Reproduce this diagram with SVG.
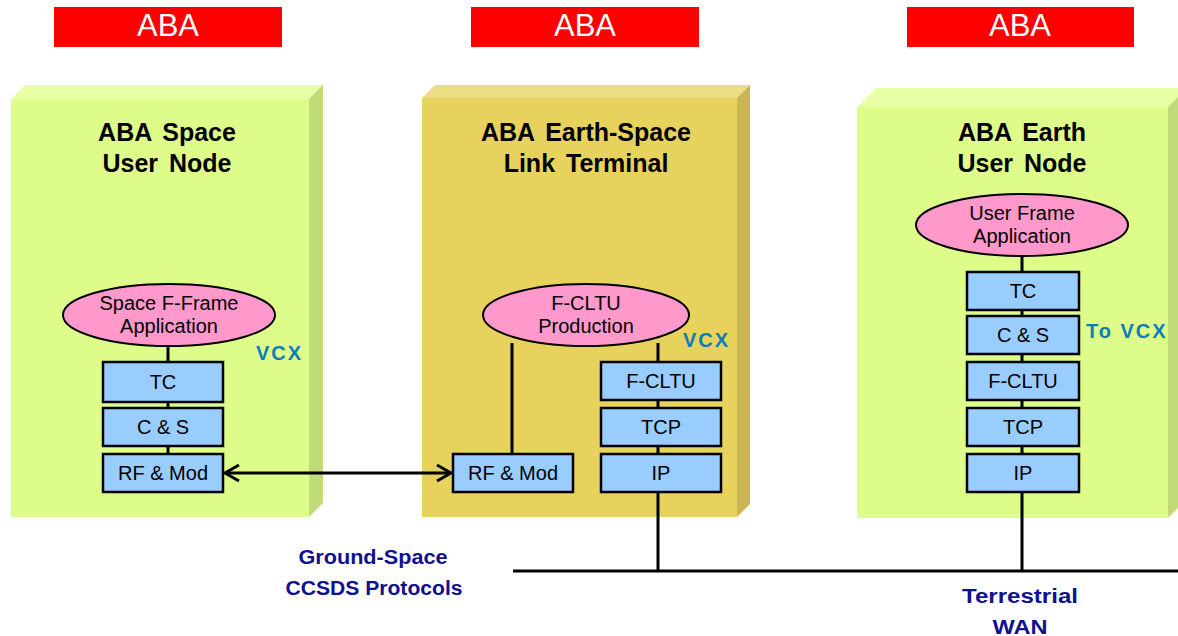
<svg xmlns="http://www.w3.org/2000/svg" width="1178" height="636" viewBox="0 0 1178 636">
<defs>
<style>
.hdr{fill:#FF0000}
.hdrt{font-family:"Liberation Sans",Arial,sans-serif;font-size:31px;fill:#fff;text-anchor:middle}
.gf{fill:#DEFC8A}.gt{fill:#E8FFA6}.gs{fill:#C0DB78}
.yf{fill:#E6D25C}.yt{fill:#ECDC84}.ys{fill:#C9B552}
.title{font-family:"Liberation Sans",Arial,sans-serif;font-size:25px;font-weight:bold;fill:#000;text-anchor:middle;word-spacing:4px}
.ell{fill:#FF99CC;stroke:#000;stroke-width:2}
.box{fill:#99CCFF;stroke:#000;stroke-width:2.5}
.lbl{font-family:"Liberation Sans",Arial,sans-serif;font-size:20px;fill:#000;text-anchor:middle}
.vcx{font-family:"Liberation Sans",Arial,sans-serif;font-size:20px;font-weight:bold;fill:#0E7DB5;letter-spacing:2px}
.ln{stroke:#000;stroke-width:3;fill:none}
.navy{font-family:"Liberation Sans",Arial,sans-serif;font-size:20px;font-weight:bold;fill:#101090;text-anchor:middle}
</style>
<marker id="ah" viewBox="0 0 20 20" refX="17" refY="10" markerWidth="20" markerHeight="20" markerUnits="userSpaceOnUse" orient="auto-start-reverse">
<path d="M3,2 L17,10 L3,18" fill="none" stroke="#000" stroke-width="3"/>
</marker>
</defs>

<g id="headers">
<rect class="hdr" x="54" y="7" width="228" height="40"/>
<text class="hdrt" x="168" y="36">ABA</text>
<rect class="hdr" x="471" y="7" width="228" height="40"/>
<text class="hdrt" x="585" y="36">ABA</text>
<rect class="hdr" x="907" y="7" width="227" height="40"/>
<text class="hdrt" x="1020" y="36">ABA</text>
</g>

<g id="space-node">
<polygon class="gt" points="11,99 25,85 323,85 309,99"/>
<polygon class="gs" points="309,99 323,85 323,503 309,517"/>
<rect class="gf" x="11" y="99" width="298" height="418"/>
<text class="title" x="167" y="141">ABA Space</text>
<text class="title" x="167" y="172">User Node</text>
</g>

<g id="esl-terminal">
<polygon class="yt" points="422,98 435,85 750,85 737,98"/>
<polygon class="ys" points="737,98 750,85 750,504 737,517"/>
<rect class="yf" x="422" y="98" width="315" height="419"/>
<text class="title" x="586" y="141">ABA Earth-Space</text>
<text class="title" x="586" y="172">Link Terminal</text>
</g>

<g id="earth-node">
<polygon class="gt" points="857,107 876,88 1187,88 1168,107"/>
<polygon class="gs" points="1168,107 1187,88 1187,499 1168,518"/>
<rect class="gf" x="857" y="107" width="311" height="411"/>
<text class="title" x="1022" y="141">ABA Earth</text>
<text class="title" x="1022" y="172">User Node</text>
</g>

<g id="connectors">
<line class="ln" x1="168" y1="346" x2="168" y2="362"/>
<line class="ln" x1="168" y1="402" x2="168" y2="408"/>
<line class="ln" x1="168" y1="446" x2="168" y2="454"/>
<line class="ln" x1="225" y1="473" x2="451" y2="473" marker-start="url(#ah)" marker-end="url(#ah)"/>
<line class="ln" x1="512" y1="343" x2="512" y2="454"/>
<line class="ln" x1="658" y1="343" x2="658" y2="362"/>
<line class="ln" x1="658" y1="400" x2="658" y2="408"/>
<line class="ln" x1="658" y1="446" x2="658" y2="454"/>
<line class="ln" x1="658" y1="492" x2="658" y2="571"/>
<line class="ln" x1="1022" y1="256" x2="1022" y2="272"/>
<line class="ln" x1="1022" y1="310" x2="1022" y2="316"/>
<line class="ln" x1="1022" y1="354" x2="1022" y2="362"/>
<line class="ln" x1="1022" y1="400" x2="1022" y2="408"/>
<line class="ln" x1="1022" y1="446" x2="1022" y2="454"/>
<line class="ln" x1="1022" y1="492" x2="1022" y2="571"/>
<line class="ln" x1="513" y1="571" x2="1178" y2="571" stroke-width="4"/>
</g>

<g id="space-app">
<ellipse class="ell" cx="169" cy="315" rx="106" ry="31"/>
<text class="lbl" x="169" y="310">Space F-Frame</text>
<text class="lbl" x="169" y="333">Application</text>
</g>
<g id="space-tc"><rect class="box" x="103" y="362" width="120" height="40"/><text class="lbl" x="163" y="389">TC</text></g>
<g id="space-cs"><rect class="box" x="103" y="408" width="120" height="38"/><text class="lbl" x="163" y="434">C &amp; S</text></g>
<g id="space-rf"><rect class="box" x="103" y="454" width="120" height="38"/><text class="lbl" x="163" y="480">RF &amp; Mod</text></g>
<text class="vcx" x="256" y="360">VCX</text>

<g id="fcltu-prod">
<ellipse class="ell" cx="586" cy="315" rx="103" ry="31"/>
<text class="lbl" x="586" y="310">F-CLTU</text>
<text class="lbl" x="586" y="333">Production</text>
</g>
<g id="esl-rf"><rect class="box" x="453" y="454" width="120" height="38"/><text class="lbl" x="513" y="480">RF &amp; Mod</text></g>
<g id="esl-fcltu"><rect class="box" x="601" y="362" width="120" height="38"/><text class="lbl" x="661" y="388">F-CLTU</text></g>
<g id="esl-tcp"><rect class="box" x="601" y="408" width="120" height="38"/><text class="lbl" x="661" y="434">TCP</text></g>
<g id="esl-ip"><rect class="box" x="601" y="454" width="120" height="38"/><text class="lbl" x="661" y="480">IP</text></g>
<text class="vcx" x="683" y="347">VCX</text>

<g id="user-app">
<ellipse class="ell" cx="1022" cy="225" rx="106" ry="31"/>
<text class="lbl" x="1022" y="220">User Frame</text>
<text class="lbl" x="1022" y="243">Application</text>
</g>
<g id="earth-tc"><rect class="box" x="967" y="272" width="112" height="38"/><text class="lbl" x="1023" y="298">TC</text></g>
<g id="earth-cs"><rect class="box" x="967" y="316" width="112" height="38"/><text class="lbl" x="1023" y="342">C &amp; S</text></g>
<g id="earth-fcltu"><rect class="box" x="967" y="362" width="112" height="38"/><text class="lbl" x="1023" y="388">F-CLTU</text></g>
<g id="earth-tcp"><rect class="box" x="967" y="408" width="112" height="38"/><text class="lbl" x="1023" y="434">TCP</text></g>
<g id="earth-ip"><rect class="box" x="967" y="454" width="112" height="38"/><text class="lbl" x="1023" y="480">IP</text></g>
<text class="vcx" x="1086" y="338">To VCX</text>

<g id="labels">
<text class="navy" x="373" y="564" textLength="149" lengthAdjust="spacingAndGlyphs">Ground-Space</text>
<text class="navy" x="374" y="595" textLength="177" lengthAdjust="spacingAndGlyphs">CCSDS Protocols</text>
<text class="navy" x="1020" y="603" textLength="116" lengthAdjust="spacingAndGlyphs">Terrestrial</text>
<text class="navy" x="1020" y="634" textLength="55" lengthAdjust="spacingAndGlyphs">WAN</text>
</g>
</svg>
